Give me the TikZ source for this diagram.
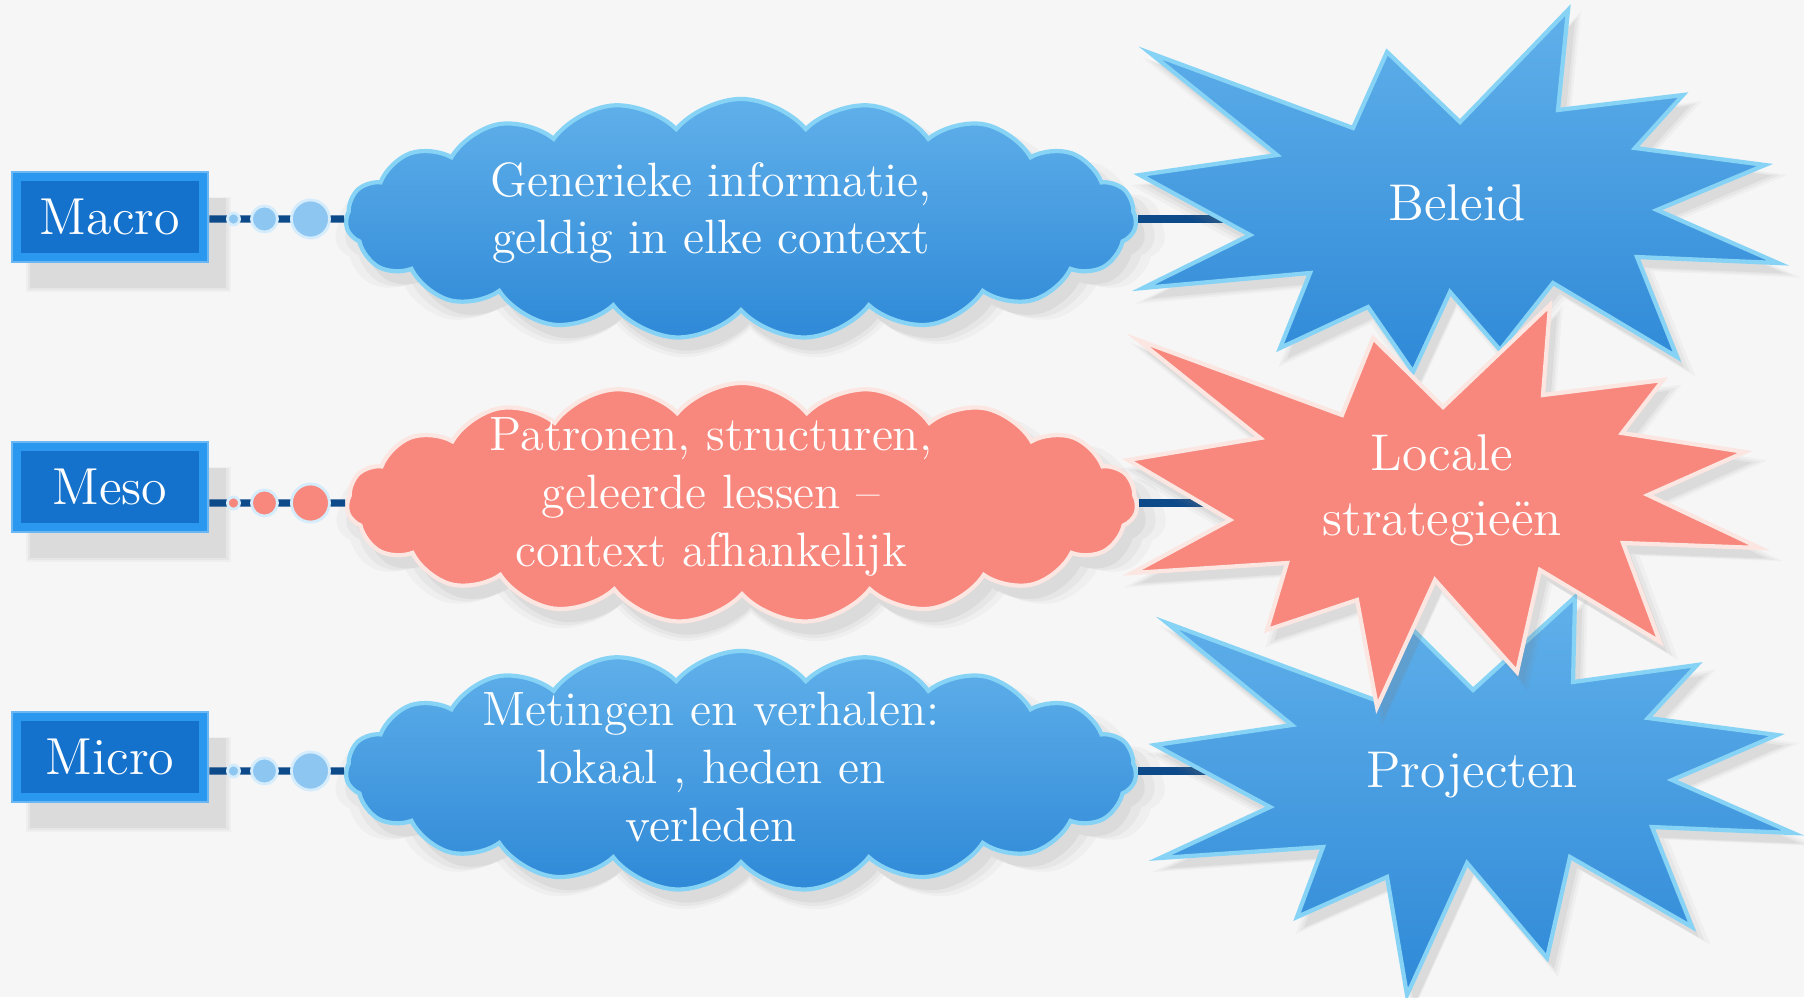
\documentclass[tikz,border=0pt]{standalone}
\usetikzlibrary{shapes.symbols,shadows,positioning}
\definecolor{bgpaper}{HTML}{F6F6F6}
\definecolor{boxblue}{HTML}{1472CC}
\definecolor{boxrim}{HTML}{2A98EE}
\definecolor{linknavy}{HTML}{0D4A8A}
\definecolor{skytop}{HTML}{60B0EA}
\definecolor{skybot}{HTML}{2F89D7}
\definecolor{skyrim}{HTML}{86D3F5}
\definecolor{salmon}{HTML}{F8887D}
\definecolor{salmonrim}{HTML}{FCE6E2}
\definecolor{dotblue}{HTML}{8EC6F2}
\definecolor{dotrim}{HTML}{D4ECFB}

\tikzset{
  softshadow/.style={
    drop shadow={opacity=0.06, shadow xshift=#1, shadow yshift=-1.5*#1, shadow scale=1.05},
    drop shadow={opacity=0.08, shadow xshift=#1, shadow yshift=-1.5*#1, shadow scale=1.025},
    drop shadow={opacity=0.10, shadow xshift=#1, shadow yshift=-1.5*#1}},
  level/.style={rectangle, fill=boxrim, draw=boxrim!70!white, line width=0.8pt,
    minimum width=1.96cm, minimum height=0.9cm, text=white,
    font=\fontsize{14.8}{17}\selectfont, softshadow=5pt,
    path picture={\fill[boxblue] ([shift={(9,9)}]path picture bounding box.north west)
      rectangle ([shift={(-9,-9)}]path picture bounding box.south east);}},
  bubble/.style={cloud, cloud puffs=19, cloud puff arc=100, cloud ignores aspect,
    minimum width=7.9cm, minimum height=2.4cm, inner sep=0pt, line width=1.2pt,
    softshadow=2.5pt},
  bluebubble/.style={bubble, draw=skyrim, top color=skytop, bottom color=skybot},
  redbubble/.style={bubble, draw=salmonrim, fill=salmon},
  bubbletext/.style={text=white, align=center, font=\fontsize{13.7}{16.4}\selectfont},
  burstblue/.style={draw=skyrim, line width=1.2pt, top color=skytop, bottom color=skybot,
    softshadow=2pt},
  burstred/.style={draw=salmonrim, line width=1.2pt, fill=salmon, softshadow=2pt},
  bursttext/.style={text=white, align=center, font=\fontsize{14.7}{18.5}\selectfont},
  link/.style={linknavy, line width=2pt},
  dot/.style={circle, inner sep=0pt, line width=0.8pt},
}

\begin{document}
\begin{tikzpicture}[x=0.01cm, y=-0.01cm]
  % page
  \fill[bgpaper] (0,0) rectangle (1804,997);
  \useasboundingbox (0,0) rectangle (1804,997);

  % level boxes
  \node[level] (macro) at (110,217) {Macro};
  \node[level] (meso) at (110,487) {Meso};
  \node[level] (micro) at (110,757) {Micro};

  % clouds
  \node[bluebubble] (generic) at (741,219) {};
  \node[redbubble] (pattern) at (742,503) {};
  \node[bluebubble] (measure) at (741,771) {};

  \node[bubbletext] (generictxt) at (711,213) {Generieke informatie,\\geldig in elke context};
  \node[bubbletext] (patterntxt) at (711,497) {Patronen, structuren,\\geleerde lessen --\\context afhankelijk};
  \node[bubbletext] (measuretxt) at (711,767) {Metingen en verhalen:\\lokaal , heden en\\verleden};

  % centres of the bursts
  \coordinate (beleidc) at (1457,203);
  \coordinate (localec) at (1442,490);
  \coordinate (projectc) at (1472,775);

  % connectors
  \draw[link] (macro.east |- generic) -- (generic.west);
  \draw[link] (meso.east |- pattern) -- (pattern.west);
  \draw[link] (micro.east |- measure) -- (measure.west);
  \draw[link] (generic.east) -- (generic.east -| beleidc);
  \draw[link] (pattern.east) -- (pattern.east -| localec);
  \draw[link] (measure.east) -- (measure.east -| projectc);

  % bubbles on the connectors
  \foreach \lvl/\cl/\col in {macro/generic/dotblue, meso/pattern/salmon, micro/measure/dotblue}
    \foreach \dx/\d [count=\i] in {24/0.12, 55/0.26, 101/0.38}
      \node[dot, minimum size=\d cm, fill=\col, draw=dotrim] (\lvl-\i)
        at ([xshift=\dx*0.01cm]\lvl.east |- \cl) {};

  % bursts
  \path[burstblue] (1150,53) -- (1353,128) -- (1387,52) -- (1460,122) -- (1568,10)
    -- (1558,110) -- (1683,95) -- (1635,148) -- (1765,165) -- (1657,210)
    -- (1778,263) -- (1637,257) -- (1677,357) -- (1553,283) -- (1500,350)
    -- (1450,292) -- (1413,372) -- (1368,307) -- (1280,348) -- (1310,273)
    -- (1143,288) -- (1250,235) -- (1140,175) -- (1277,155) -- cycle;
  \path[burstblue] (1167,623) -- (1375,700) -- (1413,630) -- (1473,690) -- (1575,597)
    -- (1573,682) -- (1697,665) -- (1648,718) -- (1777,735) -- (1672,780)
    -- (1793,833) -- (1652,827) -- (1692,927) -- (1570,857) -- (1547,958)
    -- (1467,863) -- (1407,995) -- (1387,877) -- (1297,917) -- (1323,847)
    -- (1160,858) -- (1270,807) -- (1155,745) -- (1292,725) -- cycle;
  \path[burstred] (1138,340) -- (1342,415) -- (1373,338) -- (1443,407) -- (1550,305)
    -- (1543,395) -- (1663,380) -- (1622,433) -- (1745,452) -- (1648,495)
    -- (1760,548) -- (1623,543) -- (1660,642) -- (1540,570) -- (1517,672)
    -- (1435,580) -- (1377,707) -- (1357,600) -- (1267,630) -- (1287,563)
    -- (1132,573) -- (1230,520) -- (1128,460) -- (1260,438) -- cycle;

  \node[bursttext] (beleid) at (beleidc) {Beleid};
  \node[bursttext] (locale) at (localec) {Locale\\strategieën};
  \node[bursttext] (project) at (projectc) {Projecten};
\end{tikzpicture}
\end{document}
